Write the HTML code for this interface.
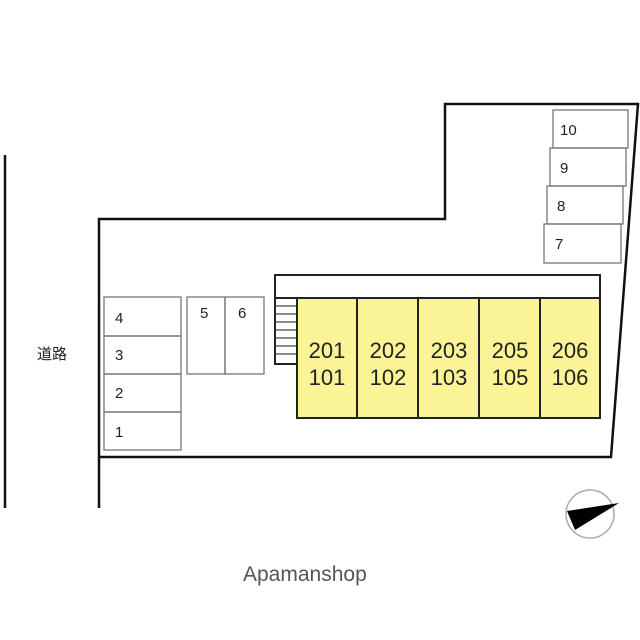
<!DOCTYPE html>
<html><head><meta charset="utf-8"><style>html,body{margin:0;padding:0;background:#fff}svg{display:block}</style></head><body>
<svg width="640" height="640" xmlns="http://www.w3.org/2000/svg" font-family="Liberation Sans, Noto Sans CJK JP, sans-serif">
<g stroke="#111" stroke-width="2.5" fill="none">
<line x1="5" y1="155" x2="5" y2="508"/>
<polyline points="99,508 99,219 445,219 445,104 638,104 611,457 99,457"/>
</g>
<g stroke="#222" stroke-width="2" fill="none">
<rect x="275" y="275" width="325" height="23"/>
<rect x="275" y="298" width="22" height="66"/>
</g>
<g stroke="#444" stroke-width="1.2">
<line x1="275" y1="306" x2="297" y2="306"/><line x1="275" y1="314" x2="297" y2="314"/>
<line x1="275" y1="322" x2="297" y2="322"/><line x1="275" y1="330" x2="297" y2="330"/>
<line x1="275" y1="338" x2="297" y2="338"/><line x1="275" y1="346" x2="297" y2="346"/>
<line x1="275" y1="354" x2="297" y2="354"/>
</g>
<g fill="#fbf496" stroke="#222" stroke-width="2">
<rect x="297" y="298" width="60" height="120"/><rect x="357" y="298" width="61" height="120"/>
<rect x="418" y="298" width="61" height="120"/><rect x="479" y="298" width="61" height="120"/>
<rect x="540" y="298" width="60" height="120"/>
</g>
<g font-size="22" fill="#222" text-anchor="middle">
<text x="327" y="358">201</text><text x="327" y="385">101</text>
<text x="388" y="358">202</text><text x="388" y="385">102</text>
<text x="449" y="358">203</text><text x="449" y="385">103</text>
<text x="510" y="358">205</text><text x="510" y="385">105</text>
<text x="570" y="358">206</text><text x="570" y="385">106</text>
</g>
<g fill="none" stroke="#777" stroke-width="1.3">
<rect x="104" y="297" width="77" height="39"/><rect x="104" y="336" width="77" height="38"/>
<rect x="104" y="374" width="77" height="38"/><rect x="104" y="412" width="77" height="38"/>
<rect x="187" y="297" width="38" height="77"/><rect x="225" y="297" width="39" height="77"/>
<rect x="553" y="110" width="75" height="38"/><rect x="550" y="148" width="76" height="38"/>
<rect x="547" y="186" width="76" height="38"/><rect x="544" y="224" width="77" height="39"/>
</g>
<g font-size="15" fill="#222">
<text x="115" y="323">4</text><text x="115" y="360">3</text><text x="115" y="398">2</text><text x="115" y="437">1</text>
<text x="200" y="318">5</text><text x="238" y="318">6</text>
<text x="560" y="135">10</text><text x="560" y="173">9</text><text x="557" y="211">8</text><text x="555" y="249">7</text>
<text x="37" y="359">道路</text>
</g>
<circle cx="590" cy="514" r="24" fill="none" stroke="#aaa" stroke-width="1.5"/>
<polygon points="619,503 567,511 575,530" fill="#000"/>
<text x="243" y="581" font-size="21" fill="#555">Apamanshop</text>
</svg>
</body></html>
